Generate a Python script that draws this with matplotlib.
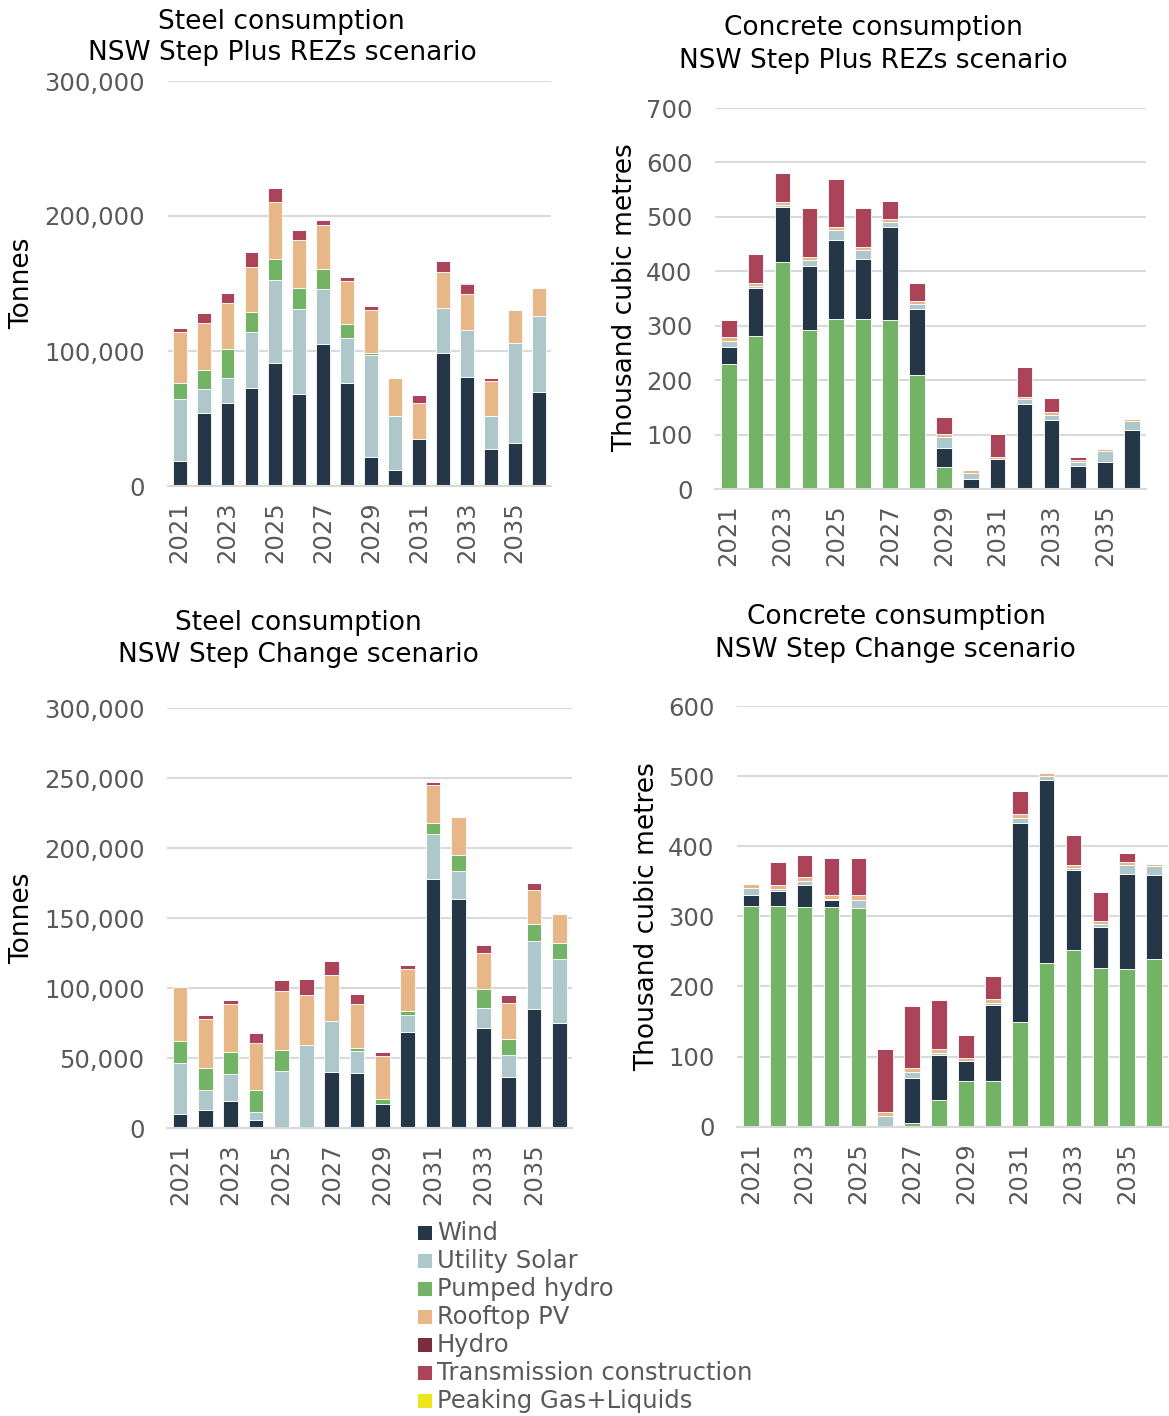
import matplotlib
matplotlib.use("Agg")
import matplotlib.pyplot as plt
from matplotlib.patches import Rectangle
import numpy as np

plt.rcParams['font.family'] = ['DejaVu Sans']

years = [str(y) for y in range(2021, 2037)]
tick_labels = [y if i % 2 == 0 else "" for i, y in enumerate(years)]

series_names = ["Wind", "Utility Solar", "Pumped hydro", "Rooftop PV", "Hydro",
                "Transmission construction", "Peaking Gas+Liquids"]
colors = {"Wind": "#253746", "Utility Solar": "#AEC7CB", "Pumped hydro": "#73B365",
          "Rooftop PV": "#E8B788", "Hydro": "#7B2C3F",
          "Transmission construction": "#AB4459", "Peaking Gas+Liquids": "#EDE51B"}

# ---- Steel consumption, Step Plus REZs (tonnes)
steel_rez_wind = [18200, 54200, 61600, 72900, 90900, 68500, 105400, 76100, 21700, 12100, 34500, 98300, 80800, 27100, 31500, 69500]
steel_rez_solar = [46300, 17500, 18700, 41100, 61800, 62500, 40400, 33500, 75600, 39400, 0, 33700, 34700, 24400, 74400, 56100]
steel_rez_ph = [11800, 14300, 20900, 15100, 15500, 15600, 15300, 10400, 1500, 0, 0, 0, 0, 0, 0, 0]
steel_rez_roof = [37600, 34900, 34300, 33000, 42100, 35900, 32500, 32000, 31500, 28800, 27100, 26600, 26600, 26100, 24400, 20700]
steel_rez_hydro = [0] * 16
steel_rez_trans = [3000, 7200, 7400, 11100, 10100, 6900, 3200, 2900, 2700, 0, 5600, 7900, 7900, 2400, 0, 0]
steel_rez_peak = [0] * 16

# ---- Concrete consumption, Step Plus REZs (thousand m3)
conc_rez_ph = [230.2, 281.7, 417.6, 292.7, 312.3, 312.3, 311.7, 210.0, 40.4, 0, 0, 0, 0, 0, 0, 0]
conc_rez_wind = [30.7, 87.6, 99.9, 116.4, 145.7, 110.8, 169.0, 121.9, 35.5, 19.6, 55.1, 156.2, 128.0, 43.5, 50.2, 109.6]
conc_rez_solar = [12.2, 4.2, 4.2, 11.0, 17.2, 16.0, 10.4, 8.6, 19.6, 9.8, 0, 9.1, 9.2, 6.1, 20.2, 15.3]
conc_rez_roof = [6.1, 5.6, 6.2, 6.1, 6.7, 5.5, 4.9, 5.5, 5.5, 5.5, 4.9, 4.3, 4.3, 4.3, 3.7, 4.3]
conc_rez_hydro = [0] * 16
conc_rez_trans = [32.5, 53.2, 52.6, 90.0, 87.6, 71.0, 33.1, 33.1, 32.5, 0, 41.7, 55.1, 26.3, 4.9, 0, 0]
conc_rez_peak = [0] * 16

# ---- Steel consumption, Step Change (tonnes)
steel_sc_wind = [10000, 13300, 19300, 6200, 0, 0, 40500, 39800, 17600, 68600, 178100, 163600, 71700, 36900, 85000, 75000]
steel_sc_solar = [36900, 14100, 19500, 5700, 40700, 59300, 36400, 15400, 0, 12400, 32100, 20200, 14000, 15200, 48800, 45500]
steel_sc_ph = [15700, 15900, 16000, 15700, 15500, 0, 0, 1900, 3100, 3000, 7700, 11400, 13400, 11500, 11700, 12100]
steel_sc_roof = [38100, 35000, 34000, 33400, 42100, 35900, 32400, 31900, 31000, 29600, 26900, 26900, 26100, 25900, 24300, 20500]
steel_sc_hydro = [0] * 16
steel_sc_trans = [0, 2700, 2900, 7300, 7700, 11200, 10000, 7000, 3100, 2800, 2600, 0, 5800, 5500, 5200, 0]
steel_sc_peak = [0] * 16

# ---- Concrete consumption, Step Change (thousand m3)
conc_sc_ph = [314.8, 314.3, 313.9, 312.9, 312.4, 0, 4.7, 38.0, 65.0, 65.0, 149.6, 234.1, 251.7, 226.0, 225.1, 239.3]
conc_sc_wind = [15.7, 21.4, 30.8, 10.9, 0, 0, 64.1, 63.6, 28.1, 108.8, 283.0, 260.2, 114.4, 58.9, 135.3, 119.7]
conc_sc_solar = [10.0, 3.3, 5.7, 0.5, 11.4, 15.2, 9.1, 3.8, 0, 2.8, 8.0, 5.7, 3.3, 4.7, 13.3, 12.3]
conc_sc_roof = [6.1, 6.2, 5.2, 5.7, 6.7, 6.2, 6.1, 5.2, 5.2, 5.3, 5.3, 4.3, 4.3, 3.4, 4.3, 2.9]
conc_sc_hydro = [0] * 16
conc_sc_trans = [0, 31.8, 31.4, 53.2, 53.2, 89.7, 87.9, 70.8, 32.3, 32.7, 32.3, 0, 42.7, 41.8, 12.8, 0]
conc_sc_peak = [0] * 16

steel_order = ["Wind", "Utility Solar", "Pumped hydro", "Rooftop PV", "Hydro",
               "Transmission construction", "Peaking Gas+Liquids"]
conc_order = ["Pumped hydro", "Wind", "Utility Solar", "Rooftop PV", "Hydro",
              "Transmission construction", "Peaking Gas+Liquids"]

panels = [
    dict(box=(167.7, 81, 550.6, 486), ylim=300000, yticks=[0, 100000, 200000, 300000],
         data={"Wind": steel_rez_wind, "Utility Solar": steel_rez_solar, "Pumped hydro": steel_rez_ph,
               "Rooftop PV": steel_rez_roof, "Hydro": steel_rez_hydro,
               "Transmission construction": steel_rez_trans, "Peaking Gas+Liquids": steel_rez_peak},
         order=steel_order,
         title=[("Steel consumption", 281.5, 22), ("NSW Step Plus REZs scenario", 282, 53)],
         ylabel=("Tonnes", 22, 283)),
    dict(box=(715.3, 108, 1145.5, 489.3), ylim=700, yticks=list(range(0, 701, 100)),
         data={"Wind": conc_rez_wind, "Utility Solar": conc_rez_solar, "Pumped hydro": conc_rez_ph,
               "Rooftop PV": conc_rez_roof, "Hydro": conc_rez_hydro,
               "Transmission construction": conc_rez_trans, "Peaking Gas+Liquids": conc_rez_peak},
         order=conc_order,
         title=[("Concrete consumption", 873, 28), ("NSW Step Plus REZs scenario", 873.5, 61)],
         ylabel=("Thousand cubic metres", 625, 298)),
    dict(box=(167.4, 708, 572, 1128.3), ylim=300000, yticks=list(range(0, 300001, 50000)),
         data={"Wind": steel_sc_wind, "Utility Solar": steel_sc_solar, "Pumped hydro": steel_sc_ph,
               "Rooftop PV": steel_sc_roof, "Hydro": steel_sc_hydro,
               "Transmission construction": steel_sc_trans, "Peaking Gas+Liquids": steel_sc_peak},
         order=steel_order,
         title=[("Steel consumption", 298, 623), ("NSW Step Change scenario", 298, 655)],
         ylabel=("Tonnes", 22, 918)),
    dict(box=(737.4, 706, 1167.6, 1126.7), ylim=600, yticks=list(range(0, 601, 100)),
         data={"Wind": conc_sc_wind, "Utility Solar": conc_sc_solar, "Pumped hydro": conc_sc_ph,
               "Rooftop PV": conc_sc_roof, "Hydro": conc_sc_hydro,
               "Transmission construction": conc_sc_trans, "Peaking Gas+Liquids": conc_sc_peak},
         order=conc_order,
         title=[("Concrete consumption", 896, 617), ("NSW Step Change scenario", 895.5, 650)],
         ylabel=("Thousand cubic metres", 647, 917)),
]

W, H = 1169, 1416
fig = plt.figure(figsize=(W / 100, H / 100), dpi=100)
fig.patch.set_facecolor("white")

TICK_FS = 17.5
TITLE_FS = 19
GRID = "#D9D9D9"
TXT = "#595959"

x = np.arange(len(years))
for p in panels:
    l, t, r, b = p["box"]
    ax = fig.add_axes([l / W, 1 - b / H, (r - l) / W, (b - t) / H])
    bottom = np.zeros(len(years))
    for name in p["order"]:
        vals = np.array(p["data"][name], dtype=float)
        ax.bar(x, vals, width=0.58, bottom=bottom, color=colors[name],
               edgecolor="white", linewidth=0.6, zorder=3)
        bottom += vals
    ax.set_xlim(-0.5, len(years) - 0.5)
    ax.set_ylim(0, p["ylim"])
    ax.set_yticks(p["yticks"])
    if p["ylim"] > 1000:
        ax.set_yticklabels([f"{v:,}" for v in p["yticks"]])
    ax.set_xticks(x)
    ax.set_xticklabels(tick_labels, rotation=90)
    ax.tick_params(axis="both", length=0, labelsize=TICK_FS, colors=TXT)
    ax.tick_params(axis="y", pad=16.5)
    ax.tick_params(axis="x", pad=11)
    ax.grid(axis="y", color=GRID, linewidth=1.5, zorder=0)
    ax.set_axisbelow(True)
    for s in ["top", "right", "left"]:
        ax.spines[s].set_visible(False)
    ax.spines["bottom"].set_color(GRID)
    ax.spines["bottom"].set_linewidth(1.5)
    ax.spines["bottom"].set_zorder(4)
    for txt, cx, cy in p["title"]:
        fig.text(cx / W, 1 - cy / H, txt, ha="center", va="center", fontsize=TITLE_FS, color="black")
    lbl, lx, ly = p["ylabel"]
    fig.text(lx / W, 1 - ly / H, lbl, ha="center", va="center", rotation=90, fontsize=TITLE_FS, color="black")

# Legend
row_y = [1233, 1261, 1289, 1317, 1345, 1373, 1401]
for name, cy in zip(series_names, row_y):
    fig.patches.append(Rectangle((418 / W, 1 - (cy + 7) / H), 14 / W, 14 / H,
                                 transform=fig.transFigure, facecolor=colors[name], edgecolor="none"))
    fig.text(437 / W, 1 - cy / H, name, ha="left", va="center", fontsize=TICK_FS, color=TXT)

fig.savefig("out.png", dpi=100, facecolor="white")
